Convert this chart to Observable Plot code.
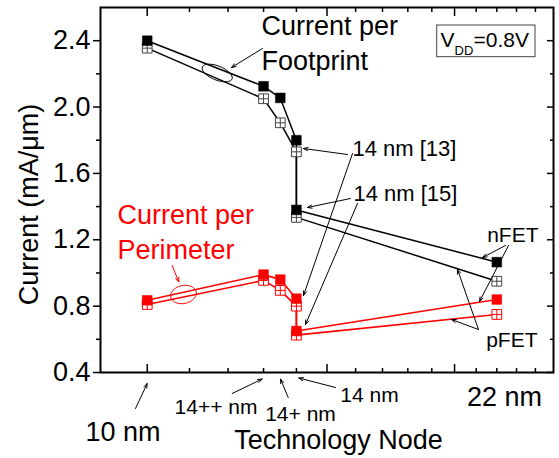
<!DOCTYPE html>
<html><head><meta charset="utf-8">
<script src="https://cdn.jsdelivr.net/npm/d3@7"></script>
<script src="https://cdn.jsdelivr.net/npm/@observablehq/plot@0.6"></script>
<style>
html,body{margin:0;padding:0;background:#fff;}
svg{overflow:visible;}
</style></head><body><div id="chart"></div>
<script>
// ---- data ----
const nodes = ["10 nm", "14++ nm", "14+ nm", "14 nm [13]", "14 nm [15]", "22 nm"];
const nodeValue = [10, 13, 13.5, 14, 14, 22];           // position on the (log) node axis
const footprintN = [2.40, 2.125, 2.055, 1.80, 1.38, 1.065];
const footprintP = [2.355, 2.05, 1.905, 1.73, 1.335, 0.95];
const perimeterN = [0.835, 0.99, 0.96, 0.845, 0.65, 0.84];
const perimeterP = [0.81, 0.955, 0.895, 0.80, 0.625, 0.75];
const yMajorTicks = [0.4, 0.8, 1.2, 1.6, 2.0, 2.4];
const yMinorTicks = [0.6, 1.0, 1.4, 1.8, 2.2];
const xMajorTicks = [10, 15, 20];
const xMinorTicks = [11, 12, 13, 14, 16, 17, 18, 19, 21, 22, 23, 24];

// ---- layout ----
const W = 559, H = 458, ML = 100, MR = 6, MT = 7, MB = 86;
const xDomain = [9, 25], yDomain = [0.4, 2.6];
const X = px => xDomain[0] * Math.pow(xDomain[1] / xDomain[0], (px - ML) / (W - ML - MR));
const Y = py => yDomain[1] - (py - MT) / (H - MT - MB) * (yDomain[1] - yDomain[0]);

const mk = (vals) => vals.map((v, i) => ({node: nodes[i], x: nodeValue[i], y: v}));
const fN = mk(footprintN), fP = mk(footprintP), pN = mk(perimeterN), pP = mk(perimeterP);

// custom symbols
const gridSquare = {draw(ctx, size) {
  const h = Math.sqrt(size) / 2;
  ctx.moveTo(-h, -h); ctx.lineTo(h, -h); ctx.lineTo(h, h); ctx.lineTo(-h, h); ctx.closePath();
  ctx.moveTo(0, -h); ctx.lineTo(0, h); ctx.moveTo(-h, 0); ctx.lineTo(h, 0);
}};
const ellipse = (a, b, deg) => ({draw(ctx) {
  const t = deg * Math.PI / 180, n = 48;
  for (let i = 0; i <= n; i++) {
    const u = 2 * Math.PI * i / n, ex = a * Math.cos(u), ey = b * Math.sin(u);
    const px = ex * Math.cos(t) - ey * Math.sin(t), py = ex * Math.sin(t) + ey * Math.cos(t);
    i ? ctx.lineTo(px, py) : ctx.moveTo(px, py);
  }
  ctx.closePath();
}});

// annotations (pixel layout)
const txtStart = [["Current per", 261, 26, 27], ["Footprint", 261, 61, 27],
  ["14 nm [13]", 352, 148, 22], ["14 nm [15]", 353, 193, 22],
  ["V", 440, 40, 21], ["DD", 454, 50, 13], ["=0.8V", 473, 40, 21]];
const txtMiddle = [["10 nm", 122.5, 432, 27], ["14++ nm", 215.5, 407, 21], ["14+ nm", 300, 414, 21],
  ["14 nm", 369, 395, 21], ["22 nm", 504, 397, 27], ["Technology Node", 338, 440, 27]];
const txtEnd = [["nFET", 538, 235, 21], ["pFET", 537, 340, 21]];
const txtRed = [["Current per", 117, 215, 27], ["Perimeter", 117, 250, 27]];
const arrowsBlack = [[262, 48, 231, 67], [347, 154, 303, 148], [352, 153, 303, 295],
  [350, 198, 307, 207], [357, 203, 305, 324], [505, 245, 482, 257], [508, 245, 479, 301],
  [478, 329, 457, 269], [478, 329, 451, 319],
  [135, 408, 146.7, 383], [231.7, 393, 261.7, 378.5], [287.7, 397, 280, 378.5], [335, 387, 298.3, 377.5]];
const arrowsRed = [[171.7, 265, 178.3, 281.5]];

const textMark = (arr, o) => Plot.text(arr, {x: d => X(d[1]), y: d => Y(d[2]), text: d => d[0],
  fontSize: d => d[3], lineAnchor: "middle", ...o});
const arrowMark = (arr, o) => Plot.arrow(arr, {x1: d => X(d[0]), y1: d => Y(d[1]), x2: d => X(d[2]), y2: d => Y(d[3]),
  strokeWidth: 1, headLength: 7, headAngle: 40, ...o});

const black = "#000", red = "#ff0000";
const chart = Plot.plot({
  width: W, height: H, marginLeft: ML, marginRight: MR, marginTop: MT, marginBottom: MB,
  x: {type: "log", domain: xDomain, axis: null, label: null},
  y: {domain: yDomain, axis: null, label: null},
  style: {fontFamily: "'Liberation Sans', Arial, Helvetica, sans-serif", background: "#fff", color: "#000"},
  marks: [
    // axes
    Plot.axisY(yMajorTicks, {anchor: "left", tickSize: 7, tickPadding: 3, strokeWidth: 1.5, fontSize: 27, tickFormat: d => d.toFixed(1), label: null}),
    Plot.axisY(yMinorTicks, {anchor: "left", tickSize: 4, strokeWidth: 1.5, fill: "none", label: null}),
    Plot.axisY(yMajorTicks, {anchor: "right", tickSize: 7, dx: -7, strokeWidth: 1.5, fill: "none", label: null}),
    Plot.axisY(yMinorTicks, {anchor: "right", tickSize: 4, dx: -4, strokeWidth: 1.5, fill: "none", label: null}),
    Plot.axisX(xMajorTicks, {anchor: "bottom", tickSize: 8, dy: -8, strokeWidth: 1.5, fill: "none", label: null}),
    Plot.axisX(xMinorTicks, {anchor: "bottom", tickSize: 4, dy: -4, strokeWidth: 1.5, fill: "none", label: null}),
    Plot.axisX(xMajorTicks, {anchor: "top", tickSize: 8, dy: 8, strokeWidth: 1.5, fill: "none", label: null}),
    Plot.axisX(xMinorTicks, {anchor: "top", tickSize: 4, dy: 4, strokeWidth: 1.5, fill: "none", label: null}),
    Plot.frame({stroke: black, strokeWidth: 2}),
    // V_DD box
    Plot.rect([[436.7, 25, 535, 56.7]], {x1: d => X(d[0]), y1: d => Y(d[1]), x2: d => X(d[2]), y2: d => Y(d[3]), fill: "#fff", stroke: "#444", strokeWidth: 1}),
    // series lines
    Plot.line(fP, {x: "x", y: "y", stroke: black, strokeWidth: 1.5}),
    Plot.line(fN, {x: "x", y: "y", stroke: black, strokeWidth: 1.5}),
    Plot.line(pP, {x: "x", y: "y", stroke: red, strokeWidth: 1.6}),
    Plot.line(pN, {x: "x", y: "y", stroke: red, strokeWidth: 1.6}),
    // markers: pFET hollow (grid squares), then nFET filled
    Plot.dot(fP, {x: "x", y: "y", symbol: gridSquare, r: 5.5, fill: "#fff", stroke: "#444", strokeWidth: 1}),
    Plot.dot(pP, {x: "x", y: "y", symbol: gridSquare, r: 5.5, fill: "#fff", stroke: red, strokeWidth: 1}),
    Plot.dot(fN, {x: "x", y: "y", symbol: "square", r: 5.5, fill: black, stroke: black, strokeWidth: 0.5}),
    Plot.dot(pN, {x: "x", y: "y", symbol: "square", r: 5.5, fill: red, stroke: red, strokeWidth: 0.5}),
    // ellipses
    Plot.dot([[216.7, 72.5]], {x: d => X(d[0]), y: d => Y(d[1]), symbol: ellipse(16, 7, 22), fill: "none", stroke: black, strokeWidth: 1}),
    Plot.dot([[183, 294]], {x: d => X(d[0]), y: d => Y(d[1]), symbol: ellipse(13, 9, -12), fill: "none", stroke: red, strokeWidth: 1}),
    // arrows
    arrowMark(arrowsBlack, {stroke: black}),
    arrowMark(arrowsRed, {stroke: red}),
    // texts
    textMark(txtStart, {textAnchor: "start", fill: black}),
    textMark(txtMiddle, {textAnchor: "middle", fill: black}),
    textMark(txtEnd, {textAnchor: "end", fill: black}),
    textMark(txtRed, {textAnchor: "start", fill: red}),
    Plot.text(["Current (mA/μm)"], {x: X(28.5), y: Y(204), text: d => d, rotate: -90, fontSize: 27, textAnchor: "middle", lineAnchor: "middle", fill: black})
  ]
});
document.getElementById("chart").appendChild(chart);
</script></body></html>
